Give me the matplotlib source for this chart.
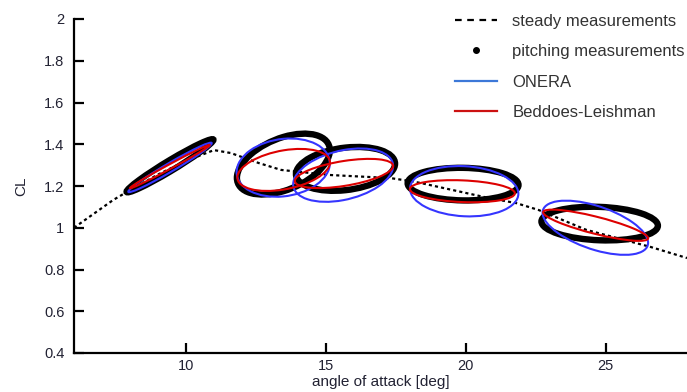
from matplotlib import pyplot as plt
from matplotlib.patches import Circle
from matplotlib.transforms import Affine2D
from matplotlib.lines import Line2D
from matplotlib.ticker import FormatStrFormatter

# steady (static) polar
steady_alpha = [6.0, 7.4, 8.0, 9.0, 10.0, 11.0, 11.6, 12.6, 13.4, 15.1, 17.3,
                18.0, 18.4, 20.8, 21.8, 22.6, 24.3, 26.6, 27.9]
steady_cl = [1.0, 1.133, 1.18, 1.255, 1.32, 1.372, 1.358, 1.31, 1.277, 1.253,
             1.238, 1.224, 1.214, 1.143, 1.118, 1.085, 0.99, 0.908, 0.855]

# hysteresis loops: mean alpha, mean CL, alpha amplitude,
# CL offset at max alpha, CL half-gap at mean alpha
meas_a0 = [9.43, 13.48, 15.70, 19.90, 24.78]
meas_c0 = [1.297, 1.305, 1.282, 1.209, 1.020]
meas_amp = [1.55, 1.66, 1.77, 1.98, 2.08]
meas_dr = [0.124, 0.066, 0.025, -0.004, -0.010]
meas_h = [0.028, 0.130, 0.102, 0.078, 0.080]

onera_a0 = [9.43, 13.475, 15.615, 19.94, 24.625]
onera_c0 = [1.289, 1.288, 1.252, 1.175, 1.000]
onera_amp = [1.49, 1.665, 1.785, 1.935, 1.885]
onera_dr = [0.116, 0.021, 0.044, -0.012, -0.072]
onera_h = [0.024, 0.138, 0.120, 0.120, 0.108]

bl_a0 = [9.425, 13.49, 15.645, 19.875, 24.635]
bl_c0 = [1.293, 1.277, 1.26, 1.175, 1.012]
bl_amp = [1.425, 1.655, 1.755, 1.875, 1.875]
bl_dr = [0.103, 0.036, 0.036, -0.010, -0.062]
bl_h = [0.012, 0.094, 0.060, 0.052, 0.042]

yticks = [0.4, 0.6, 0.8, 1.0, 1.2, 1.4, 1.6, 1.8, 2.0]
xticks = [10, 15, 20, 25]

plt.rcParams['font.family'] = ['Liberation Sans', 'DejaVu Sans']


def draw_loop(ax, a0, c0, amp, dr, h, **kw):
    # unit circle mapped onto the loop ellipse in data units
    tr = Affine2D.from_values(amp, dr, 0, h, a0, c0) + ax.transData
    ax.add_patch(Circle((0, 0), 1, transform=tr, fill=False, **kw))


fig = plt.figure(figsize=(6.87, 3.92), dpi=100)
ax = fig.add_axes([74 / 687, 1 - 353 / 392, 1 - 74 / 687, (353 - 19) / 392])

for i in range(len(meas_a0)):
    draw_loop(ax, meas_a0[i], meas_c0[i], meas_amp[i], meas_dr[i], meas_h[i],
              edgecolor='black', linewidth=4.6, zorder=2)

ax.plot(steady_alpha, steady_cl, color='black', linewidth=1.6,
        linestyle=(0, (1.4, 1.4)), zorder=3)

for i in range(len(onera_a0)):
    draw_loop(ax, onera_a0[i], onera_c0[i], onera_amp[i], onera_dr[i], onera_h[i],
              edgecolor='#3535ff', linewidth=1.5, zorder=4)

for i in range(len(bl_a0)):
    draw_loop(ax, bl_a0[i], bl_c0[i], bl_amp[i], bl_dr[i], bl_h[i],
              edgecolor='#dd0000', linewidth=1.5, zorder=5)

ax.set_xlim(6, 27.9)
ax.set_ylim(0.4, 2.0)
ax.set_xticks(xticks)
ax.set_yticks(yticks)
ax.yaxis.set_major_formatter(FormatStrFormatter('%g'))

for s in ['top', 'right']:
    ax.spines[s].set_visible(False)
for s in ['left', 'bottom']:
    ax.spines[s].set_linewidth(1.6)
ax.tick_params(direction='in', length=7, width=1.6, labelsize=10.5,
               labelcolor='#222233')
ax.tick_params(axis='y', pad=7)
ax.tick_params(axis='x', pad=4)

ax.set_xlabel('angle of attack [deg]', fontsize=11, color='#222233', labelpad=2)
ax.set_ylabel('CL', fontsize=11, color='#222233', labelpad=11)

# legend with proxy handles
handles = [Line2D([], [], color='black', linewidth=1.6, linestyle=(0, (3, 2.5))),
           Line2D([], [], color='black', marker='o', markersize=4, linestyle='none'),
           Line2D([], [], color='#3c78d8', linewidth=1.6),
           Line2D([], [], color='#cc1111', linewidth=1.6)]
labels = ['steady measurements', 'pitching measurements', 'ONERA', 'Beddoes-Leishman']
fig.legend(handles, labels, loc='upper left', bbox_to_anchor=(455 / 687, 1 - 14 / 392),
           frameon=False, prop={'family': ['Liberation Sans'], 'size': 12},
           labelcolor='#333333', handlelength=2.5,
           handletextpad=0.95, labelspacing=0.92, borderpad=0, borderaxespad=0)

plt.savefig('out.png', dpi=100)
